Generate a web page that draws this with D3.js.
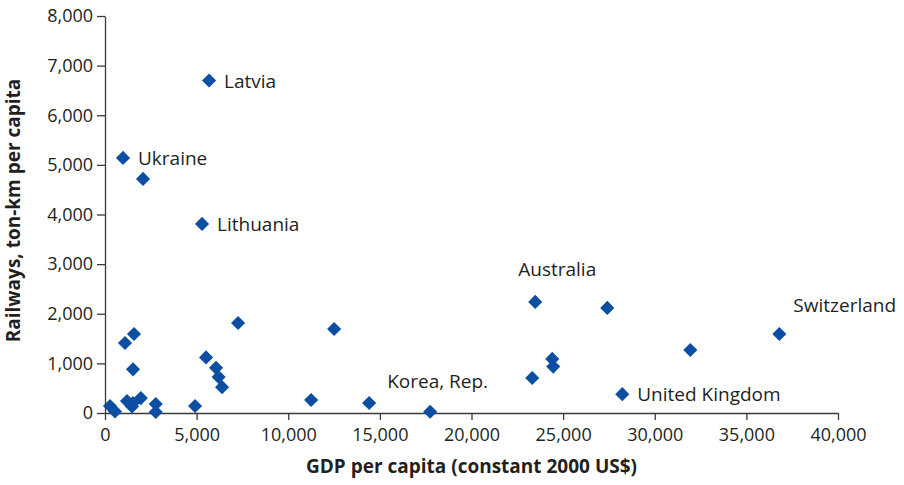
<!DOCTYPE html>
<html><head><meta charset="utf-8">
<script src="https://cdn.jsdelivr.net/npm/d3@7"></script>
<style>
body{margin:0;background:#fff;}
svg text{font-family:"Open Sans",sans-serif;fill:#231f20;}
</style></head>
<body><svg id="c" width="904" height="485"></svg>
<script>
const gdp = [5680, 983, 2075, 5296, 23478, 27409, 36800, 31941, 7262, 12503, 1583, 1092, 1529, 5515, 6060, 6200, 6388, 24406, 24460, 23314, 28228, 11248, 14414, 17745, 4914, 2770, 2770, 273, 546, 1201, 1474, 1529, 1955];
const rail = [6700, 5140, 4717, 3810, 2238, 2117, 1593, 1270, 1814, 1693, 1592, 1411, 880, 1120, 910, 725, 520, 1090, 935, 706, 380, 262, 202, 25, 141, 181, 20, 140, 30, 240, 130, 200, 300];
const labelNames = ["Latvia","Ukraine","Lithuania","Australia","Switzerland","United Kingdom","Korea, Rep."];
const labelGdp =  [5680, 983, 5296, 23478, 36800, 28228, 17745];
const labelRail = [6700, 5140, 3810, 2238, 1593, 380, 25];
const xTicks = [0,5000,10000,15000,20000,25000,30000,35000,40000];
const yTicks = [0,1000,2000,3000,4000,5000,6000,7000,8000];
const xTitle = "GDP per capita (constant 2000 US$)";
const yTitle = "Railways, ton-km per capita";

const svg = d3.select("#c");
const L=105, R=838, T=16, B=413;
const x = d3.scaleLinear().domain([0,40000]).range([L,R]);
const y = d3.scaleLinear().domain([0,8000]).range([B,T]);
const fmt = d3.format(",");
const axisColor="#3a3a3a";

const gx = svg.append("g").attr("transform",`translate(0,${B})`)
  .call(d3.axisBottom(x).tickValues(xTicks).tickFormat(fmt).tickSize(7).tickSizeOuter(0));
const gy = svg.append("g").attr("transform",`translate(${L},0)`)
  .call(d3.axisLeft(y).tickValues(yTicks).tickFormat(fmt).tickSize(8).tickSizeOuter(0));
[gx,gy].forEach(g=>{
  g.selectAll("path,line").attr("stroke",axisColor).attr("stroke-width",1.3);
  g.selectAll("text").attr("font-size",18).attr("font-family","'Open Sans',sans-serif").attr("fill","#231f20");
});
gx.selectAll("text").attr("dy","1.0em");
gy.selectAll("text").attr("dx","-0.05em");

const pts = gdp.map((g,i)=>({g, r:rail[i]}));
const s=10;
svg.append("g").selectAll("rect").data(pts).join("rect")
  .attr("x",-s/2).attr("y",-s/2).attr("width",s).attr("height",s)
  .attr("transform",d=>`translate(${x(d.g)},${y(d.r)}) rotate(45)`)
  .attr("fill","#0b4ea2");

const offs = [[15,7],[15,7],[15,7],[-17,-26],[14,-22],[15,7],[-43,-24]];
svg.append("g").selectAll("text").data(labelNames).join("text")
  .attr("x",(d,i)=>x(labelGdp[i])+offs[i][0]).attr("y",(d,i)=>y(labelRail[i])+offs[i][1])
  .attr("font-size",19).text(d=>d);

svg.append("text").attr("x",(L+R)/2).attr("y",473).attr("text-anchor","middle")
  .attr("font-size",19).attr("font-weight","bold").text(xTitle);
svg.append("text").attr("transform",`translate(20,${(T+B)/2 - 4}) rotate(-90)`).attr("text-anchor","middle")
  .attr("font-size",19).attr("font-weight","bold").text(yTitle);
</script></body></html>
